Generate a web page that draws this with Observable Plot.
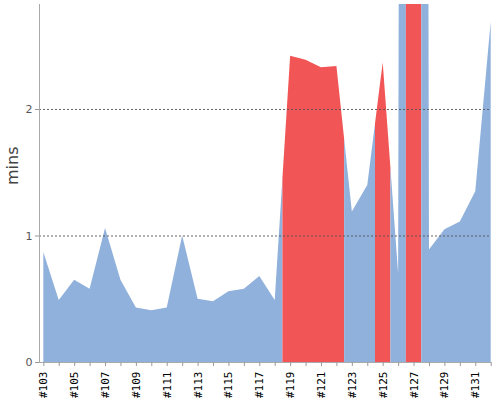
<!DOCTYPE html>
<html>
<head>
<meta charset="utf-8">
<script src="https://cdn.jsdelivr.net/npm/d3@7"></script>
<script src="https://cdn.jsdelivr.net/npm/@observablehq/plot@0.6"></script>
<style>
  html, body { margin: 0; padding: 0; background: #fff; }
  #chart svg { display: block; }
</style>
</head>
<body>
<div id="chart"></div>
<script>
// ---- data ----
const builds = [103,104,105,106,107,108,109,110,111,112,113,114,115,116,117,
                118,119,120,121,122,123,124,125,126,127,128,129,130,131,132];
const durationsMin = [0.87,0.49,0.65,0.58,1.06,0.65,0.43,0.41,0.43,1.00,0.50,0.48,0.56,0.58,0.68,
                      0.49,2.42,2.39,2.33,2.34,1.19,1.40,2.37,0.70,60,0.89,1.05,1.11,1.35,2.69];
const failedBuilds = [119,120,121,122,125,127];
const labelledBuilds = [103,105,107,109,111,113,115,117,119,121,123,125,127,129,131];
const yTicks = [0, 1, 2];
const gridTicks = [1, 2];
const statuses = ["success", "failed"];
const statusColors = ["#90B1DB", "#F25555"];

// ---- scale configuration ----
const xDomain = [102.72, 132.02];
const yDomain = [0, 2.83];

// Build the area geometry: each build owns the half-interval on either side of it,
// consecutive builds with the same status are merged into one run.
const status = builds.map(b => failedBuilds.includes(b) ? "failed" : "success");
const areaPts = [];
let run = 0;
let i = 0;
while (i < builds.length) {
  let j = i;
  while (j + 1 < builds.length && status[j + 1] === status[i]) j++;
  if (i > 0) areaPts.push({x: (builds[i - 1] + builds[i]) / 2, y: (durationsMin[i - 1] + durationsMin[i]) / 2, run, st: status[i]});
  for (let k = i; k <= j; k++) areaPts.push({x: builds[k], y: durationsMin[k], run, st: status[i]});
  if (j < builds.length - 1) areaPts.push({x: (builds[j] + builds[j + 1]) / 2, y: (durationsMin[j] + durationsMin[j + 1]) / 2, run, st: status[i]});
  run++;
  i = j + 1;
}

const chart = Plot.plot({
  width: 500,
  height: 400,
  marginLeft: 39,
  marginRight: 9,
  marginTop: 4,
  marginBottom: 38,
  style: {fontFamily: "DejaVu Sans", background: "#fff"},
  x: {domain: xDomain},
  y: {domain: yDomain},
  color: {domain: statuses, range: statusColors},
  marks: [
    Plot.areaY(areaPts, {x: "x", y1: 0, y2: "y", z: "run", fill: "st", curve: "linear", clip: true}),
    Plot.gridY(gridTicks, {stroke: "#555", strokeOpacity: 0.9, strokeDasharray: "2,2"}),
    Plot.ruleY([0], {stroke: "#aaa"}),
    Plot.ruleX([xDomain[0]], {stroke: "#aaa"}),
    Plot.axisX({
      ticks: builds,
      tickSize: 4,
      tickPadding: 5,
      tickRotate: -90,
      tickFormat: d => labelledBuilds.includes(d) ? "#" + d : "",
      fontFamily: "DejaVu Sans Mono",
      fontSize: 11,
      fill: "#000",
      stroke: "#999",
      label: null
    }),
    Plot.axisY({
      ticks: yTicks,
      tickSize: 4,
      tickPadding: 3,
      tickFormat: d => String(d),
      fontSize: 11,
      fill: "#555",
      stroke: "#999",
      label: null
    }),
    Plot.text(["mins"], {frameAnchor: "left", dx: -27, dy: 1.5, rotate: -90, fontSize: 16, fill: "#444"})
  ]
});
document.getElementById("chart").appendChild(chart);
</script>
</body>
</html>
